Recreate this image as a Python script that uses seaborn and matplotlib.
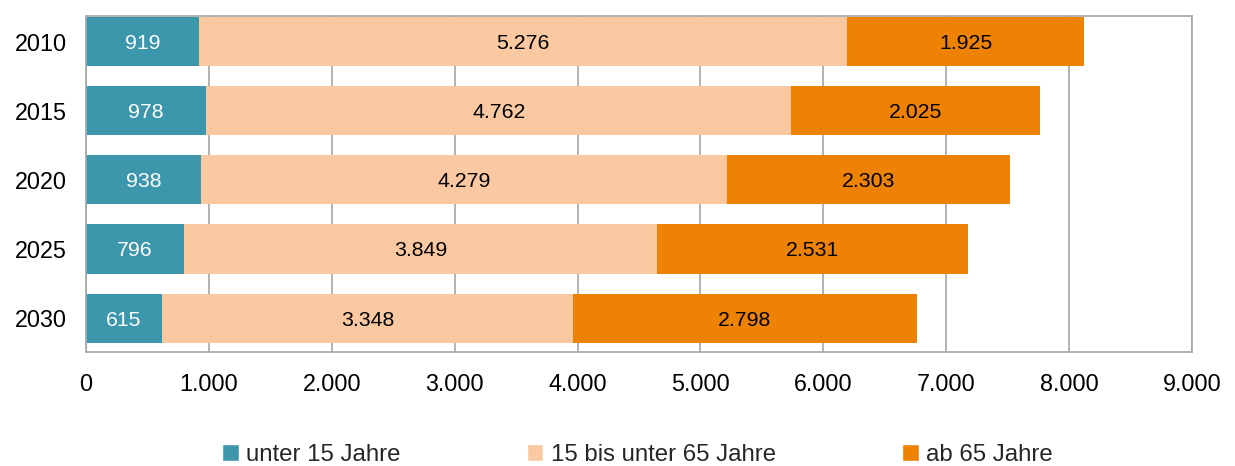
import numpy as np
import pandas as pd
import matplotlib.pyplot as plt
import seaborn as sns
from matplotlib.patches import Patch
from matplotlib.ticker import FuncFormatter

# Data
years = ['2010', '2015', '2020', '2025', '2030']
unter15 = [919, 978, 938, 796, 615]
mitte = [5276, 4762, 4279, 3849, 3348]
ab65 = [1925, 2025, 2303, 2531, 2798]
labels = ['unter 15 Jahre', '15 bis unter 65 Jahre', 'ab 65 Jahre']
colors = ['#3C96AC', '#FAC9A1', '#EE8205']

df = pd.DataFrame({'Jahr': years, 'u15': unter15, 'mid': mitte, 'a65': ab65})
df['cum_mid'] = df['u15'] + df['mid']
df['total'] = df['cum_mid'] + df['a65']

sns.set_style('white')
plt.rcParams['font.family'] = ['Liberation Sans', 'DejaVu Sans']

fig, ax = plt.subplots(figsize=(12.35, 4.66), dpi=100)
fig.subplots_adjust(left=0.0696, right=0.9652, top=0.9657, bottom=0.2446)

# stacked bars: draw cumulative totals, largest first
for col, c in [('total', colors[2]), ('cum_mid', colors[1]), ('u15', colors[0])]:
    sns.barplot(data=df, x=col, y='Jahr', order=years, color=c, width=0.71,
                saturation=1, ax=ax, zorder=2, linewidth=0)

# segment labels
for i in range(len(years)):
    starts = [0, df['u15'][i], df['cum_mid'][i]]
    vals = [df['u15'][i], df['mid'][i], df['a65'][i]]
    for j, (s, v) in enumerate(zip(starts, vals)):
        ax.text(s + v / 2, i, f"{v:,}".replace(',', '.'), ha='center', va='center_baseline',
                fontsize=15.3, color='white' if j == 0 else 'black', zorder=3)

ax.set_xlim(0, 9000)
ax.set_ylim(4.49, -0.37)
ax.set_xticks(np.arange(0, 9001, 1000))
ax.xaxis.set_major_formatter(FuncFormatter(lambda x, p: f"{x:,.0f}".replace(',', '.')))
ax.set_xlabel('')
ax.set_ylabel('')
ax.tick_params(axis='both', length=0, labelsize=16.8, colors='black')
ax.tick_params(axis='x', pad=15)
ax.tick_params(axis='y', pad=14)
ax.grid(axis='x', color='#A6A6A6', linewidth=1.2, zorder=0)
ax.set_axisbelow(True)
for sp in ax.spines.values():
    sp.set_color('#A6A6A6')
    sp.set_linewidth(1.2)

handles = [Patch(facecolor=c, label=l) for c, l in zip(colors, labels)]
fig.legend(handles=handles, loc='center', bbox_to_anchor=(0.516, 0.024), ncol=3,
           frameon=False, fontsize=17.3, handlelength=0.7, handleheight=0.7,
           handletextpad=0.3, columnspacing=5.25)

fig.savefig('out.png', dpi=100)
